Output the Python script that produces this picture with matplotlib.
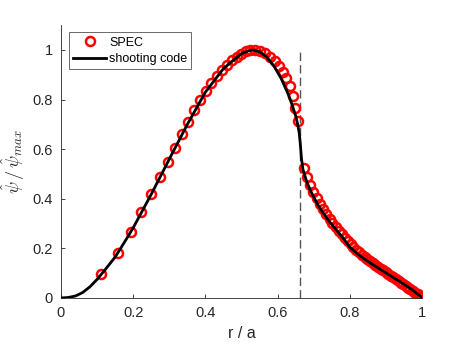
import matplotlib
matplotlib.use("Agg")
import matplotlib.pyplot as plt

plt.rcParams['font.family'] = ['Liberation Sans', 'DejaVu Sans']
plt.rcParams['mathtext.fontset'] = 'cm'

# SPEC points
spec_r = [0.111, 0.158, 0.193, 0.223, 0.249, 0.273, 0.296, 0.317, 0.336, 0.353,
          0.369, 0.385, 0.402, 0.416, 0.431, 0.445, 0.460, 0.474, 0.488, 0.500,
          0.512, 0.524, 0.537, 0.551, 0.565, 0.579, 0.593, 0.605, 0.614, 0.623,
          0.634, 0.643, 0.649, 0.657,
          0.672, 0.681, 0.690, 0.699, 0.708, 0.717, 0.726, 0.735, 0.744, 0.752,
          0.761, 0.769, 0.778, 0.786, 0.794, 0.802, 0.810, 0.818, 0.826, 0.834,
          0.841, 0.849, 0.857, 0.864, 0.871, 0.879, 0.886, 0.893, 0.900, 0.907,
          0.914, 0.921, 0.928, 0.935, 0.942, 0.948, 0.955, 0.962, 0.968, 0.975,
          0.981, 0.988, 0.994, 1.000]
spec_psi = [0.095, 0.183, 0.267, 0.345, 0.419, 0.486, 0.548, 0.606, 0.661, 0.711,
            0.758, 0.798, 0.833, 0.866, 0.895, 0.919, 0.940, 0.958, 0.973, 0.985,
            0.994, 0.999, 1.000, 0.996, 0.987, 0.973, 0.957, 0.935, 0.913, 0.886,
            0.855, 0.815, 0.765, 0.714,
            0.525, 0.487, 0.456, 0.428, 0.402, 0.380, 0.358, 0.339, 0.320, 0.304,
            0.287, 0.272, 0.257, 0.243, 0.230, 0.217, 0.206, 0.195, 0.184, 0.174,
            0.165, 0.156, 0.148, 0.140, 0.133, 0.125, 0.118, 0.111, 0.104, 0.097,
            0.090, 0.083, 0.076, 0.069, 0.062, 0.056, 0.049, 0.042, 0.036, 0.029,
            0.022, 0.015, 0.008, 0.002]

# shooting code solution
shoot_r = [0, 0.02, 0.04, 0.06, 0.08, 0.10, 0.12, 0.15, 0.18, 0.20, 0.25, 0.30,
           0.35, 0.40, 0.45, 0.48, 0.50, 0.52, 0.53, 0.55, 0.57, 0.59, 0.61, 0.63,
           0.64, 0.65, 0.655, 0.66, 0.663, 0.666, 0.67, 0.68, 0.69, 0.70, 0.71,
           0.72, 0.74, 0.76, 0.78, 0.80, 0.83, 0.86, 0.88, 0.91, 0.94, 0.97, 1.0]
shoot_psi = [0, 0.002, 0.008, 0.022, 0.045, 0.075, 0.11, 0.165, 0.235, 0.283,
             0.418, 0.56, 0.70, 0.83, 0.925, 0.962, 0.985, 0.997, 1.0, 0.993,
             0.972, 0.935, 0.885, 0.82, 0.78, 0.735, 0.705, 0.665, 0.62, 0.565,
             0.52, 0.472, 0.437, 0.407, 0.380, 0.356, 0.315, 0.279, 0.245, 0.205,
             0.168, 0.138, 0.12, 0.092, 0.065, 0.036, 0.003]

interface_r = 0.662

fig = plt.figure(figsize=(4.67, 3.5), dpi=100)
ax = fig.add_axes([0.1306, 0.1486, 0.773, 0.7794])

ax.plot(spec_r, spec_psi, 'o', mfc='none', mec='red', ms=6.5, mew=1.8,
        label='SPEC', zorder=2)
ax.plot(shoot_r, shoot_psi, '-', color='black', lw=2, label='shooting code', zorder=3)
ax.plot([interface_r, interface_r], [0, 1], '--', color='#555555', lw=1,
        dashes=(6, 3), zorder=1)

ax.set_xlim(0, 1)
ax.set_ylim(0, 1.1)
ax.set_xticks([0, 0.2, 0.4, 0.6, 0.8, 1])
ax.set_xticklabels(['0', '0.2', '0.4', '0.6', '0.8', '1'])
ax.set_yticks([0, 0.2, 0.4, 0.6, 0.8, 1])
ax.set_yticklabels(['0', '0.2', '0.4', '0.6', '0.8', '1'])

for s in ['top', 'right']:
    ax.spines[s].set_visible(False)
for s in ['left', 'bottom']:
    ax.spines[s].set_color('#262626')
    ax.spines[s].set_linewidth(0.6)
ax.tick_params(direction='in', length=3, width=0.6, labelsize=10.5,
               colors='#262626', pad=6)

ax.set_xlabel('r / a', fontsize=11.5, color='#262626')
ax.set_ylabel(r'$\hat{\psi}\,/\,\hat{\psi}_{max}$', fontsize=13, color='#262626')

leg = ax.legend(loc='upper left', bbox_to_anchor=(0.022, 0.974), fontsize=9,
                frameon=True, fancybox=False, handlelength=2.6,
                borderpad=0.35, labelspacing=0.35, handletextpad=0.25,
                borderaxespad=0.0)
leg.get_frame().set_edgecolor('#262626')
leg.get_frame().set_linewidth(0.6)

fig.savefig('out.png', dpi=100)
